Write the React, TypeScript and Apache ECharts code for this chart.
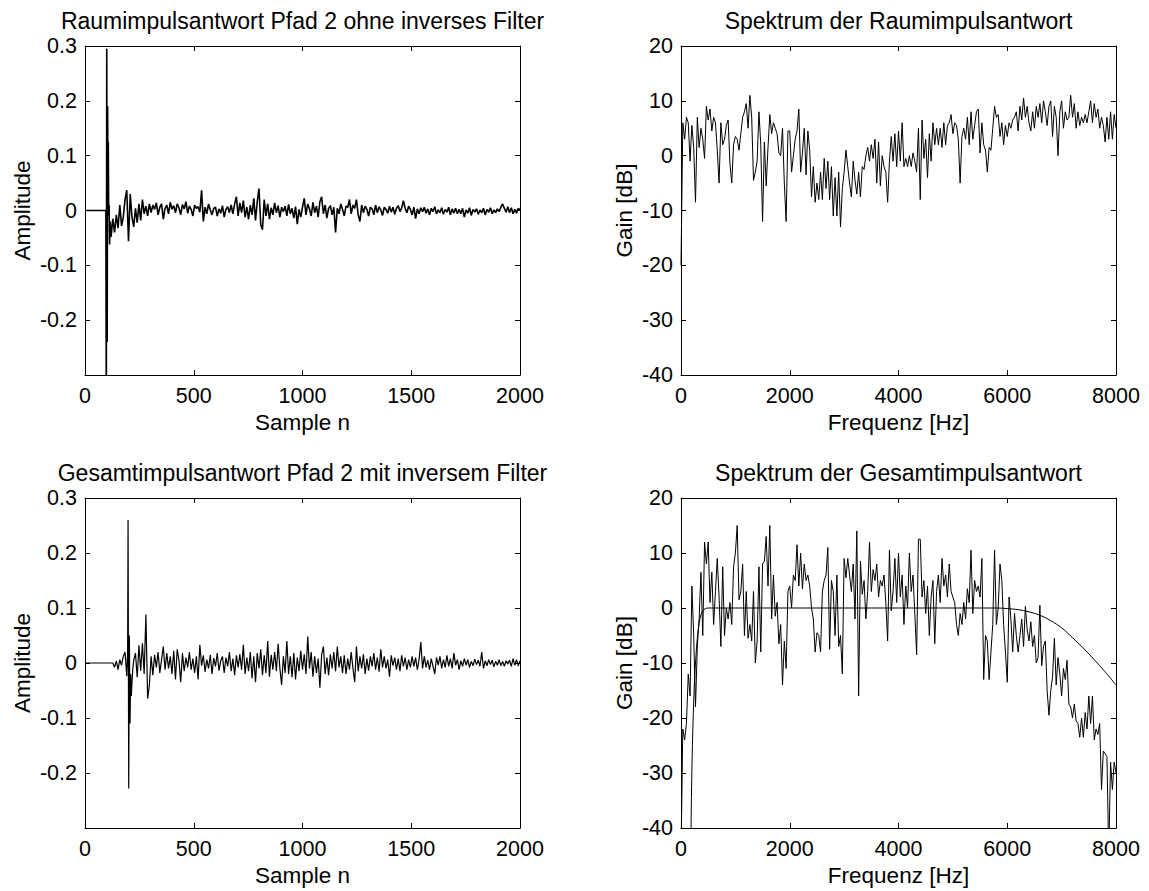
import React, { useEffect, useRef } from "react";
import * as echarts from "echarts";

const FONT = "'Liberation Sans', Arial, Helvetica, sans-serif";

// ---------- Titles / labels ----------
const TITLES = [
  "Raumimpulsantwort Pfad 2 ohne inverses Filter",
  "Spektrum der Raumimpulsantwort",
  "Gesamtimpulsantwort Pfad 2 mit inversem Filter",
  "Spektrum der Gesamtimpulsantwort",
];
const X_NAMES = ["Sample n", "Frequenz [Hz]", "Sample n", "Frequenz [Hz]"];
const Y_NAMES = ["Amplitude", "Gain [dB]", "Amplitude", "Gain [dB]"];

// ---------- Top-left: Raumimpulsantwort (time domain) ----------
const TL_HEAD: [number, number][] = [
  [0, 0], [96, 0], [98, -0.4], [100, 0.295], [102, -0.24], [104, 0.19],
  [106, 0.03], [107, 0.125], [109, -0.01], [111, 0.01], [113, -0.062], [116, -0.02],
];
const TL_TAIL_START = 120;
const TL_TAIL_STEP = 8;
const TL_TAIL = [
  -0.048, -0.015, -0.04, -0.008, -0.032, 0.01, -0.028, -0.012, 0.02, 0.037,
  -0.056, 0.03, -0.012, -0.03, 0.004, -0.022, 0.012, -0.018, 0.02, -0.006,
  0.008, -0.01, 0.012, -0.004, 0.01, 0.002, 0.014, -0.008, 0.006, 0.012,
  -0.016, 0.004, 0.01, -0.006, 0.015, 0.002, 0.009, -0.004, 0.012, 0.005,
  -0.008, 0.011, 0.003, 0.016, -0.005, 0.008, 0.002, -0.01, 0.01, 0.004,
  0.007, -0.003, 0.037, -0.02, 0.006, -0.006, 0.012, 0.001, -0.008, 0.004,
  0.006, -0.01, 0.003, -0.005, 0.009, -0.012, 0.002, 0.007, -0.004, 0.01,
  -0.006, 0.012, 0.025, -0.01, 0.014, -0.004, 0.018, -0.012, 0.006, -0.016,
  0.01, -0.008, 0.022, -0.018, 0.016, 0.04, -0.026, -0.035, 0.02, -0.01,
  0.012, -0.016, 0.005, -0.008, 0.014, -0.004, 0.009, -0.012, 0.006, -0.002,
  0.008, -0.01, 0.011, -0.006, 0.004, -0.014, 0.007, -0.025, 0.002, -0.012,
  0.006, 0.022, -0.008, 0.012, 0.003, -0.01, 0.015, -0.004, 0.008, -0.012,
  0.016, 0.025, -0.006, 0.01, -0.014, 0.004, 0.009, -0.008, 0.006, -0.04,
  0.004, -0.006, 0.012, 0.002, -0.01, 0.008, 0.006, 0.02, -0.006, 0.01,
  0.004, 0.02, -0.008, -0.02, 0.01, -0.004, 0.008, 0.002, -0.01, 0.006,
  0.003, -0.008, 0.01, -0.004, 0.007, 0.001, -0.009, 0.006, 0.002, -0.005,
  0.008, -0.003, 0.006, -0.007, 0.004, 0.009, -0.002, 0.005, 0.018, 0.004,
  -0.004, 0.008, 0.002, -0.008, 0.006, -0.015, 0.003, -0.006, 0.005, -0.002,
  0.006, -0.005, 0.003, -0.008, 0.004, -0.002, 0.007, -0.006, 0.001, -0.004,
  0.005, -0.007, 0.002, -0.003, 0.006, -0.008, 0.003, -0.005, 0.004, -0.006,
  0.002, -0.006, 0.004, -0.012, 0.001, -0.005, 0.005, -0.009, 0.002, -0.003,
  0.003, -0.007, 0.001, -0.004, 0.004, -0.008, 0.002, -0.003, 0.005, -0.006,
  0.001, -0.004, 0.003, -0.002, 0.006, 0.012, 0.004, -0.003, 0.007, -0.004,
  0.005, -0.006, 0.002, -0.005, 0.004, 0.001,
];

// ---------- Bottom-left: Gesamtimpulsantwort (time domain) ----------
const BL_HEAD: [number, number][] = [
  [0, 0], [128, 0], [136, -0.008], [144, 0.004], [152, -0.012], [160, 0.006],
  [168, -0.004], [176, 0.012], [184, 0.02], [192, -0.024], [196, 0.02],
  [198, 0.26], [201, -0.228], [204, 0.05], [207, -0.11], [210, -0.02],
  [213, -0.06], [216, -0.035], [220, -0.01], [224, 0.005],
];
const BL_TAIL_START = 232;
const BL_TAIL_STEP = 8;
const BL_TAIL = [
  0.018, -0.026, 0.032, -0.014, 0.036, -0.02, 0.088, -0.065, -0.04, 0.012,
  -0.022, 0.015, -0.008, 0.02, -0.018, 0.006, 0.03, -0.012, 0.018, -0.01,
  0.012, -0.02, 0.022, -0.03, 0.025, 0.005, -0.035, 0.018, -0.015, 0.01,
  -0.008, 0.02, -0.012, 0.008, -0.018, 0.012, -0.03, 0.033, -0.005, 0.014,
  -0.016, 0.006, -0.01, 0.015, -0.02, 0.009, -0.006, 0.018, -0.014, 0.004,
  0.012, -0.018, 0.01, -0.006, 0.02, -0.015, 0.008, -0.022, 0.014, -0.008,
  0.016, -0.012, 0.033, -0.02, 0.01, -0.015, 0.02, -0.028, 0.012, -0.035,
  0.018, -0.01, 0.025, -0.022, 0.014, -0.018, 0.04, -0.025, 0.015, -0.012,
  0.02, -0.015, 0.035, -0.01, -0.04, 0.012, -0.018, 0.04, -0.02, 0.012,
  -0.026, 0.018, -0.03, 0.01, -0.015, 0.022, -0.012, 0.016, -0.02, 0.048,
  -0.01, 0.02, -0.025, 0.012, -0.018, 0.008, -0.045, 0.015, 0.03, -0.02,
  0.01, -0.022, 0.016, -0.01, 0.02, -0.015, 0.03, -0.008, 0.012, -0.018,
  0.014, -0.02, 0.008, -0.012, 0.02, -0.01, -0.035, 0.03, -0.015, 0.012,
  -0.01, 0.016, -0.02, 0.008, -0.014, 0.012, -0.006, 0.018, -0.012, 0.01,
  -0.016, 0.025, -0.008, 0.012, -0.01, 0.006, -0.025, 0.014, -0.005, 0.01,
  -0.012, 0.008, -0.015, 0.014, -0.006, 0.01, -0.012, 0.006, -0.008, 0.012,
  -0.006, 0.01, -0.012, 0.006, 0.038, -0.01, 0.012, -0.008, 0.005, -0.012,
  0.008, -0.006, -0.02, 0.01, -0.004, 0.012, -0.01, 0.006, -0.008, 0.014,
  -0.006, 0.008, -0.01, 0.018, -0.004, 0.006, -0.012, 0.004, -0.006, 0.008,
  -0.004, 0.006, -0.008, 0.003, -0.005, 0.007, -0.003, 0.005, -0.006, 0.02,
  -0.01, 0.004, -0.005, 0.006, -0.003, 0.005, -0.007, 0.003, -0.004, 0.006,
  -0.005, 0.003, -0.006, 0.004, -0.002, 0.005, -0.006, 0.008, -0.004, 0.006,
  -0.005, 0.004,
];

// ---------- Top-right: Spektrum der Raumimpulsantwort (dB, 0..8000 Hz uniform) ----------
const TR_GAIN = [
  -20, 6, 3, 7, 6, -1, 5.5, 1.5, -8.5, 7,
  1.5, 5, 3, -0.5, 9, 6.5, 8.5, 4.5, 7, 6,
  1, -5, 6, 2, 3, 5.5, 6.5, -1.5, -5, 2,
  3.5, 3, 1, 4, 7, 8, 9.5, 5, 11, 7,
  -4.5, -3, -1, 8, 2, -12, 2.5, -5.5, 1.5, 7.5,
  4, 6, 5, 4, 0.5, 0, 5, -5, -12, 4.5,
  4.5, -3, 0, 3, 4.5, 8.5, -3, 0.5, 5, -3.5,
  4.5, 1, -7.5, -2, -8.5, -5, -8, -3, -8, -0.5,
  -6, -1, -8, -2, -11, -4, -11, -3, -13, -6,
  -3, 1, -2, -5, -7.5, -1, -4.5, -7, -3, -7.5,
  -2, -2.5, 0, 1.5, -1, 2, -0.5, 3, -5, 2.5,
  -5.5, 0, -2, -3, -8.5, -1, 3.5, -1, 4, -2,
  4.5, -1, 6, -2, -0.5, -2, 0, -2, 0.5, -1,
  -3, 5, -8, 6.5, -0.5, 3, -4, 4, -1, 6,
  2, 5, 2, 5, 1.5, 6, 2, 5.5, 6, 7.5,
  4, 6, 5.5, 3, -5, 3.5, 5, 3, 7, 2,
  8, 3, 5.5, 8, 8.5, 0.5, 6, 2, 1, -3,
  1.5, 1, 5, 9, 7, 7.5, 3.5, 6, 2, 5.5,
  3.5, 6, 5, 6.5, 7, 8, 4.5, 9, 6.5, 10.5,
  7, 9, 6, 4.5, 8, 5, 9, 7, 9.5, 6,
  10, 8, 5.5, 9, 10, 3.5, 9, 7, 0, 8,
  10, 5, 8, 6.5, 7, 11, 7, 9.5, 5, 8,
  5.5, 7, 6, 7.5, 6, 8, 10, 6, 9.5, 7,
  8.5, 5, 7, 5.5, 2.5, 7, 3, 8, 3, 7.5,
  5,
];

// ---------- Bottom-right: Spektrum der Gesamtimpulsantwort (dB, 0..8000 Hz uniform) ----------
const BR_GAIN = [
  -45, -22, -24, -21, -12, -16, 4, -5, -18, -7,
  -2, 6.5, -5, 12, 8, 12, 1, 6.5, -3, 3,
  9, 2, -7, 7.5, -5, 0, -2, 1, -3, 7.5,
  10, 15, 1.5, 3, 8, -5, 3, -5.5, -3, -6,
  3, -10, -6, 7.5, -8, 8, 8.5, 13, 4, 15,
  -2, 6, -1.5, 1, -6.5, -3, -14, -6, -11, 3,
  4, 0, 6, 5, 11.5, 4, 10, 3.5, 8, 5,
  6, 4, 0, -2, -8, -4.5, -5, -8, 3, 5,
  6, 11, -7.5, 5, 3, -5, 6, -7, -5, -12,
  9, 5.5, 9, 6, 3, 8, -2, 14, -16, 8.5,
  2.5, 5, -2, 3, 12, 3, 7, 5, 8, 2,
  5, 4, 6, 1, -6, 10.5, -0.5, 3, 9, 1,
  10, 2, 6, -3, 4, 0, 10, 3, 6, -1,
  -8.5, 12.5, 12.5, 2, 5, -1, 4, -5, 2, 5,
  -6.5, 3, 6, 1, 9, 4, 6, 2, 8, 3,
  2, 1, -3, -5, -1, -3, 1, -2, 3.5, 1,
  10.5, -1, 5, 3, 4, 2, 9, -13, -5, -6,
  -13, -8, -3, 10.5, -3, 0, 8, 5, -3, -8,
  -13.5, 2, -2, -8, -1, -5, -8, -5, -2, -7,
  0.3, -4, -6, -2.5, -7, -5, -10, -9, 0.5, -10.5,
  -7, -6, -15, -19.5, -15, -12.5, -5.5, -14, -9, -12,
  -16, -11, -13, -9.5, -17.5, -18, -20, -17.5, -20.5, -21,
  -23.5, -20, -23.5, -19, -22, -16, -21, -16, -24, -22,
  -23, -21, -33, -26, -26.5, -27, -45, -28, -33, -28,
  -30,
];

// Smooth inverse-filter target response [Hz, dB]
const FILTER_CURVE: [number, number][] = [
  [165, -80], [185, -40], [210, -25], [250, -13], [300, -5.5], [350, -1.8],
  [400, -0.5], [450, -0.1], [500, 0], [1000, 0], [2000, 0], [3000, 0],
  [4000, 0], [5000, 0], [5800, 0], [6000, -0.1], [6200, -0.3], [6400, -0.7],
  [6600, -1.3], [6800, -2.3], [7000, -3.6], [7200, -5.4], [7400, -7.3],
  [7600, -9.4], [7800, -11.6], [8000, -14],
];

// ---------- Axis tick settings ----------
const SAMPLE_AXIS = { min: 0, max: 2000, interval: 500 };
const FREQ_AXIS = { min: 0, max: 8000, interval: 2000 };
const AMP_AXIS = { min: -0.3, max: 0.3, interval: 0.1 };
const GAIN_AXIS = { min: -40, max: 20, interval: 10 };

const GRIDS = [
  { left: 85, top: 46, width: 435, height: 329 },
  { left: 681, top: 46, width: 435, height: 329 },
  { left: 85, top: 498, width: 435, height: 330 },
  { left: 681, top: 498, width: 435, height: 330 },
];

const LINE_WIDTHS = [1.6, 1, 1.2, 1];

function buildOption() {
  const axisLine = { show: true, onZero: false, lineStyle: { color: "#000", width: 1 } };
  const axisTick = { show: true, inside: true, length: 5, lineStyle: { color: "#000", width: 1 } };
  const labelStyle = { color: "#000", fontSize: 21.5, fontFamily: FONT };
  const nameStyle = { color: "#000", fontSize: 22.5, fontFamily: FONT };

  const xAxes: any[] = [];
  const yAxes: any[] = [];
  GRIDS.forEach((_, g) => {
    const xr = g % 2 === 0 ? SAMPLE_AXIS : FREQ_AXIS;
    const yr = g % 2 === 0 ? AMP_AXIS : GAIN_AXIS;
    xAxes.push({
      type: "value", gridIndex: g, position: "bottom", ...xr,
      axisLine, axisTick, splitLine: { show: false },
      axisLabel: { ...labelStyle, margin: 10, formatter: (v: number) => String(Math.round(v)) },
      name: X_NAMES[g], nameLocation: "middle", nameGap: 36, nameTextStyle: nameStyle,
    });
    xAxes.push({
      type: "value", gridIndex: g, position: "top", ...xr,
      axisLine, axisTick, splitLine: { show: false }, axisLabel: { show: false },
    });
    yAxes.push({
      type: "value", gridIndex: g, position: "left", ...yr,
      axisLine, axisTick, splitLine: { show: false },
      axisLabel: {
        ...labelStyle, margin: 8,
        formatter: (v: number) => {
          if (g % 2 === 0) {
            if (Math.abs(v - AMP_AXIS.min) < 1e-9) return "";
            return String(Number(v.toFixed(1)));
          }
          return String(Math.round(v));
        },
      },
      name: Y_NAMES[g], nameLocation: "middle", nameRotate: 90,
      nameGap: g % 2 === 0 ? 51 : 45, nameTextStyle: nameStyle,
    });
    yAxes.push({
      type: "value", gridIndex: g, position: "right", ...yr,
      axisLine, axisTick, splitLine: { show: false }, axisLabel: { show: false },
    });
  });

  const lineBase = (w: number) => ({
    type: "line", showSymbol: false, symbol: "none", clip: true, silent: true,
    lineStyle: { color: "#000", width: w },
  });

  const tlData = [
    ...TL_HEAD,
    ...TL_TAIL.map((v, i) => [TL_TAIL_START + i * TL_TAIL_STEP, v]),
  ];
  const blData = [
    ...BL_HEAD,
    ...BL_TAIL.map((v, i) => [BL_TAIL_START + i * BL_TAIL_STEP, v]),
  ];
  const trData = TR_GAIN.map((v, i) => [(i * 8000) / (TR_GAIN.length - 1), v]);
  const brData = BR_GAIN.map((v, i) => [(i * 8000) / (BR_GAIN.length - 1), v]);

  const series = [
    { ...lineBase(LINE_WIDTHS[0]), xAxisIndex: 0, yAxisIndex: 0, data: tlData },
    { ...lineBase(LINE_WIDTHS[1]), xAxisIndex: 2, yAxisIndex: 2, data: trData },
    { ...lineBase(LINE_WIDTHS[2]), xAxisIndex: 4, yAxisIndex: 4, data: blData },
    { ...lineBase(LINE_WIDTHS[3]), xAxisIndex: 6, yAxisIndex: 6, data: brData },
    { ...lineBase(1), xAxisIndex: 6, yAxisIndex: 6, data: FILTER_CURVE, smooth: 0.3 },
  ];

  const title = GRIDS.map((gr, g) => ({
    text: TITLES[g],
    left: gr.left + gr.width / 2,
    top: g < 2 ? 9 : 461,
    textAlign: "center",
    padding: 0,
    textStyle: { color: "#000", fontSize: 23, fontWeight: "normal", fontFamily: FONT },
  }));

  return {
    animation: false,
    backgroundColor: "#fff",
    title,
    grid: GRIDS.map((g) => ({ ...g, containLabel: false, show: false })),
    xAxis: xAxes,
    yAxis: yAxes,
    series,
  };
}

export default function App() {
  const ref = useRef<HTMLDivElement>(null);
  useEffect(() => {
    if (!ref.current) return;
    const chart = echarts.init(ref.current, undefined, { renderer: "svg" });
    chart.setOption(buildOption() as any);
    return () => chart.dispose();
  }, []);
  return (
    <div
      ref={ref}
      style={{ position: "fixed", left: 0, top: 0, width: 1149, height: 891, background: "#fff" }}
    />
  );
}
